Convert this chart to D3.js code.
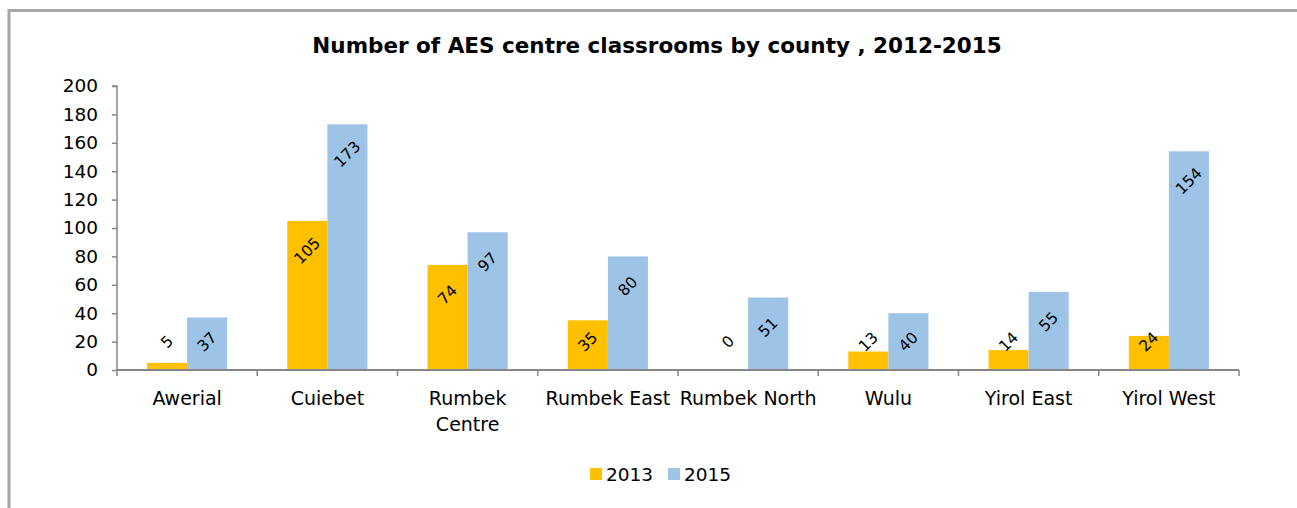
<!DOCTYPE html>
<html>
<head>
<meta charset="utf-8">
<script src="https://cdn.jsdelivr.net/npm/d3@7"></script>
<style>
  html, body { margin: 0; padding: 0; background: #fff; }
  svg { display: block; }
  text { font-family: "DejaVu Sans", Verdana, sans-serif; fill: #000; }
</style>
</head>
<body>
<svg id="chart" width="1297" height="508"></svg>
<script>
// Classroom counts per county
const counties = ["Awerial", "Cuiebet", "Rumbek Centre", "Rumbek East", "Rumbek North", "Wulu", "Yirol East", "Yirol West"];
const countyLines = [["Awerial"], ["Cuiebet"], ["Rumbek", "Centre"], ["Rumbek East"], ["Rumbek North"], ["Wulu"], ["Yirol East"], ["Yirol West"]];
const years = ["2013", "2015"];
const values2013 = [5, 105, 74, 35, 0, 13, 14, 24];
const values2015 = [37, 173, 97, 80, 51, 40, 55, 154];
const yTicks = [0, 20, 40, 60, 80, 100, 120, 140, 160, 180, 200];
const colors = ["#FFC000", "#9DC3E6"];

const svg = d3.select("#chart");
const W = 1297, H = 508;

// outer frame (top and left edges visible)
svg.append("line").attr("x1", 9).attr("x2", W).attr("y1", 10.5).attr("y2", 10.5)
  .attr("stroke", "#a6a6a6").attr("stroke-width", 3);
svg.append("line").attr("x1", 9).attr("x2", 9).attr("y1", 9).attr("y2", H)
  .attr("stroke", "#a6a6a6").attr("stroke-width", 3);

svg.append("text")
  .attr("x", 657).attr("y", 53)
  .attr("text-anchor", "middle")
  .style("font-size", "21.5px").style("font-weight", "bold")
  .text("Number of AES centre classrooms by county , 2012-2015");

const plotLeft = 117, plotRight = 1239, plotTop = 86, plotBottom = 370;

const x = d3.scaleBand().domain(counties).range([plotLeft, plotRight]).paddingInner(0).paddingOuter(0);
const inner = d3.scaleBand().domain(years).range([0, x.bandwidth()]).paddingInner(0).paddingOuter(0.75);
const y = d3.scaleLinear().domain([0, 200]).range([plotBottom, plotTop]);

const series = years.map((yr, i) => ({ year: yr, color: colors[i], values: i === 0 ? values2013 : values2015 }));

// bars
const groups = svg.append("g").selectAll("g").data(series).join("g").attr("fill", d => d.color);
groups.selectAll("rect")
  .data(s => s.values.map((v, i) => ({ v, county: counties[i], year: s.year })))
  .join("rect")
  .attr("x", d => x(d.county) + inner(d.year))
  .attr("width", inner.bandwidth())
  .attr("y", d => y(d.v))
  .attr("height", d => plotBottom - y(d.v));

// y axis
const yAxis = svg.append("g").attr("transform", `translate(${plotLeft},0)`)
  .call(d3.axisLeft(y).tickValues(yTicks).tickSize(5).tickPadding(14));
yAxis.select(".domain").attr("stroke", "#868686").attr("stroke-width", 1.5).attr("d", `M-5,${plotTop}H0V${plotBottom}`);
yAxis.selectAll(".tick line").attr("stroke", "#868686").attr("stroke-width", 1.5);
yAxis.selectAll(".tick text").style("font-size", "18.5px").attr("fill", "#000")
  .style("font-family", "\"DejaVu Sans\", Verdana, sans-serif");

// x axis
const xAxis = svg.append("g").attr("transform", `translate(0,${plotBottom})`);
xAxis.append("line").attr("x1", plotLeft).attr("x2", plotRight).attr("y1", 0).attr("y2", 0)
  .attr("stroke", "#868686").attr("stroke-width", 2);
const bounds = counties.map(c => x(c)).concat([plotRight]);
xAxis.selectAll("line.tk").data(bounds).join("line").attr("class", "tk")
  .attr("x1", d => d).attr("x2", d => d).attr("y1", 0).attr("y2", 6)
  .attr("stroke", "#868686").attr("stroke-width", 1.5);
xAxis.selectAll("text.cat").data(counties).join("text").attr("class", "cat")
  .attr("text-anchor", "middle")
  .attr("x", d => x(d) + x.bandwidth() / 2)
  .attr("y", 35)
  .style("font-size", "19px")
  .each(function (d, i) {
    d3.select(this).selectAll("tspan").data(countyLines[i]).join("tspan")
      .attr("x", x(d) + x.bandwidth() / 2)
      .attr("dy", (t, j) => j === 0 ? 0 : 26)
      .text(t => t);
  });

// value labels, rotated, inside the bar end
const labels = svg.append("g");
series.forEach(s => {
  labels.selectAll(null)
    .data(s.values.map((v, i) => ({ v, county: counties[i] })))
    .join("text")
    .attr("text-anchor", "middle")
    .attr("dominant-baseline", "central")
    .style("font-size", "15.5px")
    .attr("transform", d => {
      const cx = x(d.county) + inner(s.year) + inner.bandwidth() / 2;
      const cy = Math.min(y(d.v) + 30, plotBottom - 28);
      return `translate(${cx},${cy}) rotate(-45)`;
    })
    .text(d => d.v);
});

// legend
const legend = svg.append("g").attr("transform", "translate(590,474)");
const items = [{ x: 0, year: "2013", color: colors[0] }, { x: 78, year: "2015", color: colors[1] }];
items.forEach(it => {
  legend.append("rect").attr("x", it.x).attr("y", -6).attr("width", 12).attr("height", 12).attr("fill", it.color);
  legend.append("text").attr("x", it.x + 16).attr("y", 0).attr("dominant-baseline", "central")
    .style("font-size", "18.5px").text(it.year);
});
</script>
</body>
</html>
